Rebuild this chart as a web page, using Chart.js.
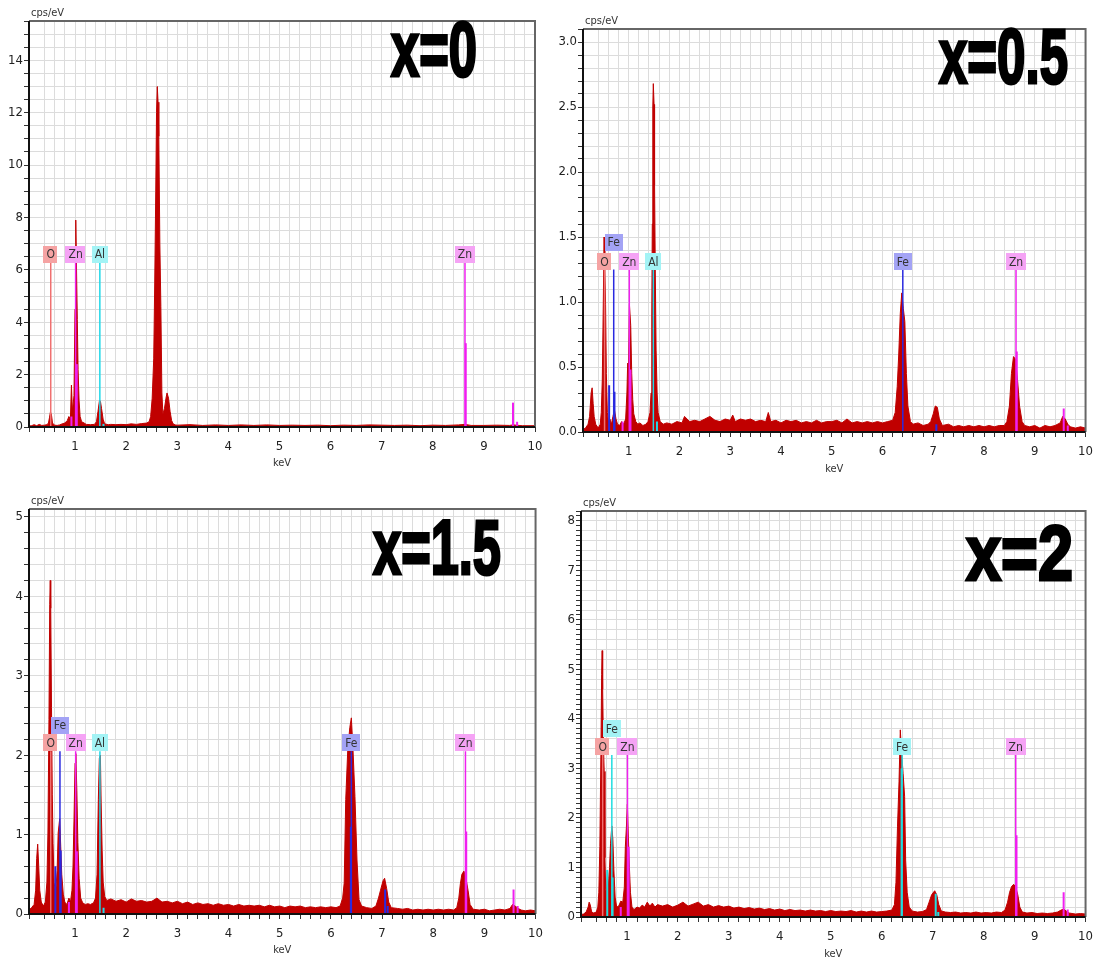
<!DOCTYPE html>
<html lang="en">
<head>
<meta charset="UTF-8">
<title>EDS spectra</title>
<script src="https://cdn.jsdelivr.net/npm/chart.js@4"></script>
<style>
body { margin: 0; background: #fff; }
#page { position: relative; width: 1100px; height: 961px; overflow: hidden; }
canvas { position: absolute; }
.tag {
    position: absolute; font-family: 'Liberation Sans', Arial, sans-serif; font-weight: bold;
    font-size: 78px; line-height: 78px; color: #000; white-space: nowrap;
    transform-origin: left top; -webkit-text-stroke: 3px #000;
}
</style>
</head>
<body>
<div id="page"></div>

<script>
// sample labels
const titles = ['x=0', 'x=0.5', 'x=1.5', 'x=2'];

// spectra: [keV, cps/eV]
const spec0 = [[0.10,0.06],[0.14,0.04],[0.2,0.09],[0.25,0.05],[0.3,0.1],[0.35,0.06],[0.4,0.07],[0.45,0.09],[0.48,0.15],[0.5,0.35],[0.52,0.58],[0.54,0.45],[0.56,0.15],[0.6,0.07],[0.65,0.06],[0.7,0.08],[0.75,0.12],[0.8,0.15],[0.85,0.25],[0.88,0.4],[0.91,0.3],[0.93,1.6],[0.95,0.6],[0.98,1.2],[1.0,4.5],[1.015,7.9],[1.03,6.0],[1.045,4.1],[1.06,2.2],[1.08,1.0],[1.1,0.4],[1.13,0.2],[1.18,0.15],[1.22,0.1],[1.3,0.09],[1.38,0.1],[1.42,0.2],[1.45,0.6],[1.48,1.03],[1.5,0.95],[1.52,0.7],[1.55,0.3],[1.58,0.12],[1.65,0.09],[1.7,0.1],[1.8,0.09],[1.9,0.1],[2.0,0.09],[2.1,0.12],[2.2,0.1],[2.3,0.13],[2.4,0.15],[2.45,0.2],[2.48,0.4],[2.51,1.1],[2.54,2.6],[2.56,5.5],[2.58,9.0],[2.595,12.0],[2.61,13.0],[2.625,12.4],[2.64,11.1],[2.66,7.0],[2.68,4.6],[2.70,1.3],[2.72,0.5],[2.75,0.7],[2.78,1.1],[2.8,1.3],[2.83,1.1],[2.86,0.6],[2.89,0.25],[2.92,0.12],[2.96,0.08],[3.0,0.07],[3.25,0.09],[3.5,0.06],[3.75,0.08],[4.0,0.06],[4.25,0.08],[4.5,0.06],[4.75,0.08],[5.0,0.06],[5.25,0.07],[5.5,0.06],[5.75,0.07],[6.0,0.05],[6.25,0.07],[6.5,0.06],[6.75,0.08],[7.0,0.07],[7.25,0.06],[7.5,0.07],[7.75,0.05],[8.0,0.07],[8.25,0.06],[8.5,0.08],[8.63,0.1],[8.75,0.06],[9.0,0.06],[9.25,0.07],[9.5,0.06],[9.57,0.08],[9.75,0.05],[10.0,0.05]];

const spec1 = [[0.10,0.02],[0.15,0.03],[0.2,0.06],[0.23,0.12],[0.26,0.3],[0.28,0.34],[0.30,0.22],[0.32,0.12],[0.35,0.06],[0.4,0.03],[0.44,0.06],[0.46,0.15],[0.48,0.4],[0.50,1.0],[0.515,1.5],[0.53,1.25],[0.545,0.98],[0.56,0.45],[0.58,0.15],[0.6,0.08],[0.63,0.1],[0.66,0.06],[0.69,0.12],[0.72,0.17],[0.75,0.1],[0.78,0.06],[0.82,0.05],[0.86,0.08],[0.9,0.06],[0.94,0.1],[0.965,0.3],[0.98,0.53],[0.995,0.45],[1.015,0.98],[1.04,0.82],[1.06,0.45],[1.08,0.25],[1.1,0.14],[1.14,0.08],[1.18,0.06],[1.22,0.07],[1.28,0.05],[1.34,0.06],[1.38,0.08],[1.42,0.15],[1.44,0.3],[1.455,0.9],[1.465,1.6],[1.475,2.5],[1.485,2.68],[1.50,2.52],[1.51,1.9],[1.525,1.2],[1.54,0.63],[1.56,0.3],[1.58,0.15],[1.62,0.08],[1.68,0.06],[1.75,0.07],[1.85,0.06],[1.95,0.08],[2.05,0.07],[2.1,0.12],[2.2,0.08],[2.3,0.09],[2.4,0.08],[2.5,0.1],[2.6,0.12],[2.7,0.09],[2.8,0.08],[2.9,0.1],[3.0,0.09],[3.05,0.13],[3.1,0.08],[3.2,0.1],[3.3,0.09],[3.4,0.1],[3.5,0.08],[3.6,0.09],[3.7,0.08],[3.75,0.15],[3.8,0.08],[3.9,0.09],[4.0,0.07],[4.1,0.09],[4.2,0.08],[4.3,0.09],[4.4,0.07],[4.5,0.08],[4.6,0.07],[4.7,0.09],[4.8,0.07],[4.9,0.08],[5.0,0.08],[5.1,0.09],[5.2,0.07],[5.3,0.1],[5.4,0.07],[5.5,0.08],[5.6,0.07],[5.7,0.08],[5.8,0.07],[5.9,0.08],[6.0,0.07],[6.1,0.08],[6.2,0.09],[6.25,0.15],[6.29,0.35],[6.32,0.6],[6.35,0.91],[6.38,1.07],[6.41,0.95],[6.44,0.85],[6.47,0.45],[6.5,0.2],[6.55,0.08],[6.6,0.06],[6.7,0.07],[6.8,0.05],[6.9,0.06],[6.95,0.08],[7.0,0.14],[7.04,0.2],[7.08,0.19],[7.12,0.1],[7.18,0.05],[7.3,0.06],[7.4,0.04],[7.5,0.05],[7.6,0.04],[7.7,0.05],[7.8,0.04],[7.9,0.05],[8.0,0.04],[8.1,0.05],[8.2,0.04],[8.3,0.05],[8.4,0.05],[8.45,0.08],[8.5,0.2],[8.54,0.45],[8.58,0.58],[8.62,0.56],[8.66,0.4],[8.7,0.2],[8.75,0.08],[8.8,0.05],[8.9,0.04],[9.0,0.05],[9.1,0.03],[9.2,0.05],[9.3,0.04],[9.4,0.05],[9.5,0.07],[9.55,0.12],[9.6,0.1],[9.65,0.06],[9.7,0.04],[9.8,0.03],[9.9,0.04],[10.0,0.03]];

const spec2 = [[0.10,0.05],[0.15,0.08],[0.2,0.12],[0.23,0.3],[0.25,0.7],[0.27,0.88],[0.29,0.6],[0.31,0.3],[0.34,0.15],[0.38,0.1],[0.42,0.15],[0.45,0.4],[0.47,1.02],[0.49,2.45],[0.505,3.9],[0.515,4.2],[0.525,3.85],[0.54,2.6],[0.555,1.5],[0.57,0.89],[0.59,0.4],[0.61,0.3],[0.63,0.35],[0.65,0.55],[0.67,1.02],[0.70,1.2],[0.72,0.85],[0.74,0.5],[0.77,0.25],[0.8,0.15],[0.84,0.12],[0.88,0.2],[0.91,0.15],[0.94,0.3],[0.96,0.6],[0.98,1.2],[1.0,1.9],[1.015,2.02],[1.035,1.56],[1.055,0.9],[1.08,0.45],[1.11,0.2],[1.15,0.14],[1.2,0.12],[1.25,0.13],[1.3,0.12],[1.36,0.14],[1.4,0.2],[1.43,0.5],[1.455,1.44],[1.475,1.96],[1.495,2.0],[1.51,1.4],[1.53,0.8],[1.55,0.4],[1.58,0.22],[1.62,0.17],[1.7,0.19],[1.8,0.16],[1.9,0.18],[2.0,0.15],[2.1,0.19],[2.2,0.16],[2.3,0.17],[2.4,0.15],[2.5,0.16],[2.6,0.2],[2.7,0.15],[2.8,0.16],[2.9,0.14],[3.0,0.16],[3.1,0.13],[3.2,0.15],[3.3,0.12],[3.4,0.14],[3.5,0.12],[3.6,0.13],[3.7,0.11],[3.8,0.13],[3.9,0.11],[4.0,0.12],[4.1,0.1],[4.2,0.12],[4.3,0.1],[4.4,0.11],[4.5,0.1],[4.6,0.11],[4.7,0.09],[4.8,0.11],[4.9,0.09],[5.0,0.1],[5.1,0.08],[5.2,0.1],[5.3,0.09],[5.4,0.1],[5.5,0.08],[5.6,0.09],[5.7,0.08],[5.8,0.09],[5.9,0.08],[6.0,0.09],[6.1,0.08],[6.18,0.1],[6.23,0.2],[6.26,0.39],[6.29,1.44],[6.33,2.07],[6.37,2.35],[6.40,2.47],[6.43,2.1],[6.47,1.48],[6.51,0.68],[6.55,0.18],[6.6,0.1],[6.7,0.08],[6.8,0.07],[6.88,0.1],[6.93,0.2],[6.97,0.3],[7.02,0.42],[7.05,0.45],[7.09,0.32],[7.13,0.15],[7.18,0.08],[7.3,0.07],[7.4,0.06],[7.5,0.07],[7.6,0.05],[7.7,0.06],[7.8,0.05],[7.9,0.06],[8.0,0.05],[8.1,0.06],[8.2,0.05],[8.3,0.06],[8.4,0.05],[8.46,0.08],[8.5,0.2],[8.53,0.38],[8.56,0.5],[8.6,0.54],[8.64,0.45],[8.68,0.3],[8.72,0.12],[8.78,0.06],[8.9,0.05],[9.0,0.06],[9.1,0.04],[9.2,0.05],[9.3,0.06],[9.4,0.05],[9.5,0.07],[9.55,0.12],[9.6,0.1],[9.66,0.07],[9.72,0.05],[9.8,0.04],[9.9,0.05],[10.0,0.04]];

const spec3 = [[0.10,0.05],[0.15,0.06],[0.2,0.1],[0.24,0.2],[0.26,0.3],[0.28,0.25],[0.31,0.1],[0.35,0.08],[0.4,0.1],[0.43,0.2],[0.45,0.5],[0.47,1.42],[0.49,3.27],[0.505,4.9],[0.515,5.38],[0.525,4.6],[0.54,3.5],[0.555,2.94],[0.57,1.2],[0.585,0.55],[0.6,0.5],[0.62,0.95],[0.64,0.6],[0.66,1.0],[0.68,1.49],[0.705,1.84],[0.725,1.57],[0.745,0.95],[0.77,0.4],[0.8,0.2],[0.84,0.22],[0.88,0.32],[0.92,0.3],[0.95,0.6],[0.97,1.42],[0.99,1.8],[1.01,2.28],[1.03,1.6],[1.05,1.0],[1.07,0.5],[1.1,0.2],[1.14,0.15],[1.2,0.2],[1.25,0.18],[1.3,0.24],[1.35,0.2],[1.4,0.3],[1.45,0.22],[1.5,0.28],[1.55,0.2],[1.6,0.25],[1.7,0.22],[1.8,0.25],[1.9,0.2],[2.0,0.24],[2.1,0.3],[2.2,0.22],[2.3,0.26],[2.4,0.3],[2.5,0.22],[2.6,0.25],[2.7,0.2],[2.8,0.23],[2.9,0.2],[3.0,0.22],[3.1,0.18],[3.2,0.2],[3.3,0.17],[3.4,0.19],[3.5,0.16],[3.6,0.18],[3.7,0.15],[3.8,0.17],[3.9,0.14],[4.0,0.16],[4.1,0.13],[4.2,0.15],[4.3,0.13],[4.4,0.14],[4.5,0.12],[4.6,0.14],[4.7,0.12],[4.8,0.13],[4.9,0.11],[5.0,0.13],[5.1,0.11],[5.2,0.12],[5.3,0.11],[5.4,0.13],[5.5,0.1],[5.6,0.12],[5.7,0.1],[5.8,0.12],[5.9,0.1],[6.0,0.11],[6.1,0.12],[6.2,0.14],[6.25,0.25],[6.28,0.7],[6.31,1.82],[6.34,2.73],[6.365,3.78],[6.385,3.4],[6.42,2.9],[6.45,2.43],[6.47,1.15],[6.5,0.5],[6.54,0.2],[6.6,0.12],[6.7,0.1],[6.8,0.11],[6.88,0.15],[6.93,0.3],[6.98,0.45],[7.04,0.53],[7.08,0.45],[7.12,0.25],[7.17,0.12],[7.25,0.1],[7.35,0.09],[7.45,0.1],[7.55,0.08],[7.65,0.09],[7.75,0.08],[7.85,0.1],[7.95,0.08],[8.05,0.09],[8.15,0.08],[8.25,0.1],[8.35,0.09],[8.42,0.14],[8.47,0.3],[8.51,0.5],[8.55,0.62],[8.59,0.66],[8.63,0.6],[8.67,0.45],[8.71,0.2],[8.76,0.1],[8.85,0.08],[8.95,0.09],[9.05,0.07],[9.15,0.08],[9.25,0.07],[9.35,0.08],[9.45,0.1],[9.52,0.14],[9.57,0.16],[9.62,0.12],[9.68,0.08],[9.8,0.06],[9.9,0.07],[10.0,0.06]];

// labelled element lines: [element, keV, line top, label centre]
const marks0 = [['O',0.525,6.3,6.6],['Zn',1.012,6.3,6.6],['Al',1.486,6.3,6.6],['Zn',8.63,6.3,6.6]];
const marks1 = [['O',0.525,1.25,1.31],['Fe',0.705,1.25,1.46],['Zn',1.012,1.25,1.31],['Al',1.486,1.25,1.31],['Fe',6.40,1.25,1.31],['Zn',8.63,1.25,1.31]];
const marks2 = [['O',0.525,2.05,2.16],['Fe',0.705,2.05,2.38],['Zn',1.012,2.05,2.16],['Al',1.486,2.05,2.16],['Fe',6.40,2.05,2.16],['Zn',8.63,2.05,2.16]];
const marks3 = [['O',0.525,3.27,3.44],['Fe',0.705,3.27,3.8],['Zn',1.012,3.27,3.44],['Fe',6.40,3.27,3.44],['Zn',8.63,3.27,3.44]];

// minor lines without labels: [element, keV, height]
const sub0 = [['Zn',0.93,0.4],['Zn',1.035,2.4],['Al',1.557,0.12],['Zn',8.645,3.2],['Zn',9.57,0.93],['Zn',9.65,0.2]];
const sub1 = [['Fe',0.615,0.36],['Fe',0.72,0.31],['Zn',0.88,0.08],['Zn',1.035,0.48],['Al',1.557,0.08],['Fe',7.06,0.06],['Zn',8.645,0.62],['Zn',9.57,0.18],['Zn',9.65,0.05]];
const sub2 = [['Fe',0.615,0.6],['Fe',0.72,0.8],['Zn',0.88,0.15],['Zn',1.035,0.79],['Al',1.557,0.08],['Fe',6.39,1.1],['Fe',7.06,0.31],['Fe',7.11,0.1],['Zn',8.645,1.04],['Zn',9.57,0.31],['Zn',9.65,0.1]];
const sub3 = [['Fe',0.615,0.95],['Fe',0.72,0.8],['Zn',0.88,0.2],['Zn',1.035,1.42],['Fe',6.39,3.0],['Fe',7.06,0.47],['Fe',7.11,0.1],['Zn',8.645,1.65],['Zn',9.57,0.5],['Zn',9.65,0.15]];

// y axes
const yMax = [15.5, 3.1, 5.1, 8.2];
const yStep = [0.5, 0.1, 0.2, 0.1];
const yLabelStep = [2, 0.5, 1, 1];
const yGridStep = [0.5, 0.1, 0.2, 0.2];
const yDecimals = [0, 1, 0, 0];

const spectra = [spec0, spec1, spec2, spec3];
const marks = [marks0, marks1, marks2, marks3];
const subs = [sub0, sub1, sub2, sub3];

// canvas placement and plot area (canvas px); tag = [left, top, width] of the big label
const frames = [
    {left: 0,   top: 0,   w: 550, h: 480, L: 29, T: 21, R: 535, B: 427, axisH: 43, tag: [391, 10, 86]},
    {left: 550, top: 0,   w: 550, h: 480, L: 33, T: 29, R: 540, B: 432, axisH: 44, tag: [939, 17, 129]},
    {left: 0,   top: 480, w: 550, h: 481, L: 29, T: 29, R: 536, B: 434, axisH: 43, tag: [373, 508, 128]},
    {left: 550, top: 480, w: 550, h: 481, L: 31, T: 31, R: 538, B: 437, axisH: 44, tag: [966, 514, 107]}
];

const RED = '#c00000';
const FONT = "'DejaVu Sans Condensed', 'DejaVu Sans', sans-serif";
const tones = {
    O:  {line: '#f07070', box: '#f5a3a3'},
    Zn: {line: '#f020f0', box: '#f5a3f5'},
    Al: {line: '#20d8e8', box: '#a3f3f5'},
    Fe: {line: '#2a2ae0', box: '#a3a3f5'},
    FeC: {line: '#20dde0', box: '#a3f3f5'}
};
function tone(el, p) {
    if (el === 'Fe' && p === 3) return tones.FeC;
    return tones[el];
}
function isMultiple(v, k) {
    return Math.abs(v / k - Math.round(v / k)) < 1e-6;
}

Chart.defaults.font.family = FONT;
Chart.defaults.color = '#222';

const page = document.getElementById('page');

function makePanel(p) {
    const f = frames[p];
    const cv = document.createElement('canvas');
    cv.width = f.w; cv.height = f.h;
    cv.style.left = f.left + 'px'; cv.style.top = f.top + 'px';
    page.appendChild(cv);

    const tag = document.createElement('div');
    tag.className = 'tag';
    tag.textContent = titles[p];
    tag.style.left = f.tag[0] + 'px'; tag.style.top = f.tag[1] + 'px';
    page.appendChild(tag);
    const natural = tag.getBoundingClientRect().width;
    tag.style.transform = 'scaleX(' + (f.tag[2] / natural) + ')';

    const datasets = [];
    marks[p].forEach(([el, kev, top]) => {
        datasets.push({data: [{x: kev, y: 0}, {x: kev, y: top}], borderColor: tone(el, p).line,
            borderWidth: 1.5, pointRadius: 0, fill: false, order: 1});
    });
    subs[p].forEach(([el, kev, top]) => {
        datasets.push({data: [{x: kev, y: 0}, {x: kev, y: top}], borderColor: tone(el, p).line,
            borderWidth: 2, pointRadius: 0, fill: false, order: 1});
    });
    datasets.push({
        data: spectra[p].map(([x, y]) => ({x, y})),
        borderColor: RED, backgroundColor: RED, borderWidth: 1,
        pointRadius: 0, fill: 'origin', tension: 0, order: 5
    });

    const overlay = {
        id: 'overlay' + p,
        afterDatasetsDraw(chart) {
            const {ctx, chartArea: a, scales: {x, y}} = chart;
            ctx.save();
            ctx.lineWidth = 2;
            ctx.strokeStyle = '#666';
            ctx.beginPath();
            ctx.moveTo(a.left, a.top); ctx.lineTo(a.right, a.top); ctx.lineTo(a.right, a.bottom);
            ctx.stroke();
            ctx.strokeStyle = '#111';
            ctx.beginPath();
            ctx.moveTo(a.left, a.top); ctx.lineTo(a.left, a.bottom); ctx.lineTo(a.right, a.bottom);
            ctx.stroke();

            ctx.font = '12px ' + FONT;
            ctx.textAlign = 'center';
            ctx.textBaseline = 'middle';
            marks[p].forEach(([el, kev, top, lab]) => {
                const cx = x.getPixelForValue(kev), cy = y.getPixelForValue(lab);
                const w = ctx.measureText(el).width + 6, h = 17;
                ctx.fillStyle = tone(el, p).box;
                ctx.fillRect(Math.round(cx - w / 2), Math.round(cy - h / 2), Math.round(w), h);
                ctx.fillStyle = '#333';
                ctx.fillText(el, cx, cy + 1);
            });

            ctx.font = '11px ' + FONT;
            ctx.textAlign = 'left';
            ctx.textBaseline = 'bottom';
            ctx.fillStyle = '#333';
            ctx.fillText('cps/eV', a.left + 2, a.top - 2);
            ctx.restore();
        }
    };

    new Chart(cv, {
        type: 'line',
        data: {datasets},
        options: {
            responsive: false,
            animation: false,
            events: [],
            layout: {padding: {left: 0, top: f.T, right: f.w - f.R, bottom: f.h - f.B - f.axisH}},
            plugins: {legend: {display: false}, tooltip: {enabled: false}},
            scales: {
                x: {
                    type: 'linear', min: 0.1, max: 10,
                    afterFit(s) { s.height = f.axisH; },
                    border: {display: false},
                    grid: {color: '#dcdcdc', lineWidth: 1, tickColor: '#333', tickLength: 5},
                    ticks: {
                        stepSize: 0.2, autoSkip: false, maxRotation: 0, maxTicksLimit: 1000,
                        padding: 7, font: {size: 13},
                        callback: v => isMultiple(v, 1) ? String(Math.round(v)) : ''
                    },
                    title: {display: true, text: 'keV', font: {size: 11}, padding: {top: 0, bottom: 0}, color: '#333'}
                },
                y: {
                    type: 'linear', min: 0, max: yMax[p],
                    afterFit(s) { s.width = f.L; },
                    afterBuildTicks(s) {
                        const t = [];
                        for (let i = 0; i * yStep[p] <= yMax[p] + 1e-9; i++) t.push({value: +(i * yStep[p]).toFixed(3)});
                        s.ticks = t;
                    },
                    border: {display: false},
                    grid: {
                        color: c => isMultiple(c.tick.value, yGridStep[p]) ? '#dcdcdc' : 'rgba(0,0,0,0)',
                        lineWidth: 1, tickColor: '#333', tickLength: 5
                    },
                    ticks: {
                        autoSkip: false, padding: 1, font: {size: 13},
                        callback: v => isMultiple(v, yLabelStep[p]) ? v.toFixed(yDecimals[p]) : ''
                    }
                }
            }
        },
        plugins: [overlay]
    });
}

for (let p = 0; p < 4; p++) makePanel(p);
</script>
</body>
</html>
